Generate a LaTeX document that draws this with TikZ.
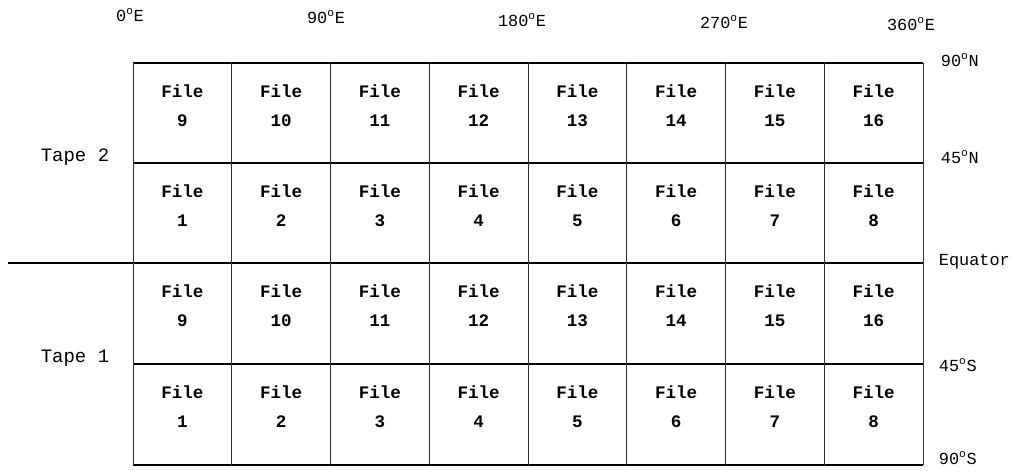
\documentclass[tikz,border=0pt]{standalone}
\usepackage{fontspec}
\setmonofont{Liberation Mono}
\usetikzlibrary{positioning}

\begin{document}
\begin{tikzpicture}[
    x=0.025cm, y=-0.025cm,
    hline/.style={line width=1.3pt},
    vline/.style={line width=0.6pt, black!80},
    cell/.style={align=center, inner sep=0pt, font=\ttfamily\bfseries\fontsize{12.5}{20.6}\selectfont},
    tape/.style={font=\ttfamily\fontsize{13.5}{15}\selectfont},
    deg/.style={font=\ttfamily\fontsize{12}{14}\selectfont}
]
\useasboundingbox (0,0) rectangle (1016,470);

% latitude lines
\draw[hline] (133,63) -- (923,63);
\draw[hline] (133,163) -- (923,163);
\draw[hline] (8,263) -- (923,263);
\draw[hline] (133,364) -- (923,364);
\draw[hline] (133,465) -- (923,465);
% longitude lines
\foreach \i in {0,...,8}
  \draw[vline] ({133+98.75*\i},63) -- ({133+98.75*\i},465);

% files on each tape
\foreach \t/\off/\top in {2/8/63, 2/0/163, 1/8/263, 1/0/364}
  \foreach \i in {1,...,8} {
    \pgfmathtruncatemacro{\f}{\i+\off}
    \node[cell] (t\t f\f) at ({133+98.75*\i-49.4},\top+43) {File\\\f};
  }

\node[tape] (tape2) at (75,157) {Tape 2};
\node[tape] (tape1) at (75,358) {Tape 1};

% longitudes
\node[deg] (lon0) at (130,15) {0\textsuperscript{o}E};
\node[deg] (lon90) at (326,17) {90\textsuperscript{o}E};
\node[deg] (lon180) at (522,20) {180\textsuperscript{o}E};
\node[deg] (lon270) at (724,22) {270\textsuperscript{o}E};
\node[deg] (lon360) at (911,24) {360\textsuperscript{o}E};

% latitudes
\node[deg, anchor=west] (lat90n) at (936,60) {90\textsuperscript{o}N};
\node[deg, anchor=west] (lat45n) at (936,157) {45\textsuperscript{o}N};
\node[deg, anchor=west] (equator) at (934,262) {Equator};
\node[deg, anchor=west] (lat45s) at (934,365) {45\textsuperscript{o}S};
\node[deg, anchor=west] (lat90s) at (934,458) {90\textsuperscript{o}S};
\end{tikzpicture}
\end{document}
